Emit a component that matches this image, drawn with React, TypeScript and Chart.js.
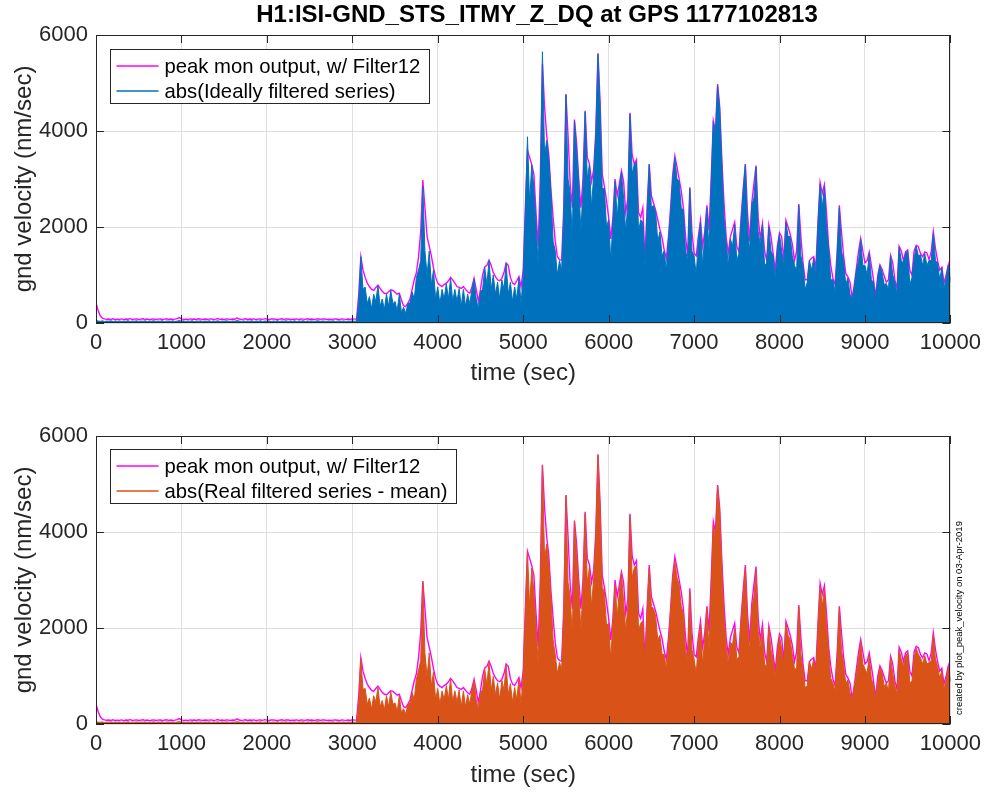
import React, { useEffect, useRef } from "react";
import { Chart, registerables } from "chart.js";

Chart.register(...registerables);

// ---------- data: one sample every 25 s, 0 .. 10000 s ----------
const SAMPLE_STEP_SEC = 25;

// 0 .. 3025 s (quiet part, 122 samples)
const PEAK_MON_QUIET = [
  420, 260, 150, 100, 85, 78, 82, 75, 88, 72,
  80, 76, 85, 70, 82, 78, 90, 74, 80, 85,
  72, 80, 88, 75, 82, 70, 78, 86, 74, 80,
  84, 72, 80, 88, 76, 82, 74, 80, 90, 112,
  85, 76, 80, 72, 86, 78, 82, 74, 88, 80,
  72, 84, 78, 80, 86, 74, 80, 92, 76, 82,
  74, 86, 80, 72, 84, 78, 110, 82, 76, 80,
  88, 74, 82, 78, 86, 72, 80, 84, 76, 90,
  80, 74, 82, 86, 78, 72, 80, 88, 76, 82,
  84, 74, 80, 78, 86, 72, 82, 80, 76, 88,
  78, 84, 72, 80, 88, 76, 82, 86, 74, 80,
  74, 80, 84, 78, 72, 86, 80, 76, 82, 74,
  88, 80,
];
// 3050 .. 10000 s (279 samples)
const PEAK_MON_ACTIVE = [
  80, 600, 1380, 1100, 950, 830, 760, 700, 680, 740, 790, 720, 660, 620, 610, 650, 690, 680, 640, 600,
  620, 480, 360, 340, 414, 500, 700, 900, 1050, 1380, 1900, 2980, 2400, 1800, 1600, 1400, 1150, 950, 830, 790,
  760, 800, 830, 880, 950, 900, 830, 760, 740, 720, 760, 700, 650, 620, 750, 930, 700, 450, 700, 1000,
  1170, 1200, 1310, 1200, 1050, 966, 900, 880, 930, 1050, 1250, 1200, 950, 830, 800, 880, 966, 750, 1100, 2400,
  3600, 3450, 3300, 3100, 2300, 1600, 3000, 5400, 4500, 3900, 3500, 2760, 2200, 1700, 1380, 1320, 1310, 2400, 4770, 3900,
  2900, 2400, 4240, 3750, 3000, 2400, 3000, 4420, 3450, 3320, 2950, 3200, 4000, 5620, 4600, 3100, 2850, 2550, 2200, 1750,
  2200, 3000, 2650, 2900, 3170, 2950, 2300, 2600, 4380, 3500, 3310, 3400, 2300, 2200, 2400, 1300, 2400, 3310, 2650, 2500,
  2350, 2150, 1950, 1780, 1520, 1345, 1790, 2400, 3100, 3480, 3250, 3000, 2750, 2400, 1800, 1380, 2830, 1900, 1450, 1400,
  1800, 2140, 1600, 1900, 2450, 1930, 3000, 4210, 4000, 4980, 4500, 3400, 2500, 1800, 1450, 1800, 1950, 2100, 1600, 1480,
  2200, 2800, 3310, 2300, 1700, 2500, 2900, 3280, 2200, 1750, 2070, 1500, 1300, 2040, 1800, 1450, 1100, 1600, 1880, 1800,
  1300, 2140, 2000, 1850, 1640, 1300, 1500, 2480, 1800, 1250, 900, 900, 1300, 1350, 1380, 1150, 2100, 2930, 2700, 2880,
  2300, 1600, 1200, 930, 800, 1500, 2450, 1900, 1400, 1035, 960, 850, 520, 800, 1150, 1500, 1760, 1500, 1250, 1300,
  1480, 1200, 900, 550, 1000, 1210, 1120, 980, 850, 900, 1410, 1250, 900, 720, 1600, 1500, 1300, 1480, 1520, 1100,
  1000, 1500, 1620, 1590, 1450, 1380, 1480, 1460, 1320, 1480, 1900, 1550, 1300, 1100, 1160, 830, 1000, 1210, 900,
];

const IDEAL_QUIET = [
  50, 42, 35, 45, 30, 40, 38, 46, 30, 42,
  35, 44, 32, 40, 36, 47, 31, 40, 37, 45,
  33, 41, 34, 45, 30, 41, 36, 48, 31, 40,
  35, 46, 30, 39, 42, 35, 44, 31, 40, 52,
  36, 45, 33, 41, 35, 46, 30, 40, 37, 44,
  31, 41, 36, 45, 30, 42, 35, 46, 32, 40,
  36, 45, 38, 30, 42, 35, 50, 40, 33, 44,
  31, 41, 36, 45, 30, 42, 35, 46, 32, 40,
  36, 44, 30, 41, 35, 47, 31, 40, 37, 45,
  33, 41, 34, 45, 30, 41, 36, 48, 31, 40,
  37, 43, 32, 40, 46, 34, 41, 38, 30, 44,
  35, 46, 30, 39, 42, 35, 44, 31, 40, 36,
  42, 38,
];
const IDEAL_ACTIVE = [
  40, 450, 1380, 700, 750, 400, 550, 300, 600, 450, 780, 350, 500, 280, 600, 350, 680, 400, 450, 250,
  600, 220, 330, 200, 400, 420, 650, 500, 950, 1100, 1300, 2850, 1500, 1000, 1500, 800, 1100, 500, 750, 400,
  700, 500, 820, 500, 930, 450, 700, 450, 720, 350, 700, 350, 600, 400, 700, 920, 500, 300, 650, 700,
  1150, 800, 1300, 700, 1000, 600, 850, 500, 900, 700, 1240, 600, 850, 450, 750, 500, 950, 400, 1000, 2300,
  3880, 2500, 3300, 2800, 2100, 1200, 2700, 5650, 3500, 3800, 3400, 2700, 1700, 1500, 1000, 1300, 1100, 2300, 4750, 3000,
  2700, 1800, 4200, 3600, 2900, 1900, 2800, 4400, 3000, 3300, 2400, 3100, 3950, 5600, 4500, 2800, 2800, 2000, 2150, 1300,
  2100, 2950, 2200, 2800, 3150, 2600, 1900, 2500, 4350, 3100, 3300, 3350, 1900, 2150, 2100, 1200, 2300, 3300, 2400, 2450,
  2300, 1700, 1900, 1400, 1500, 1100, 1750, 2300, 3000, 3450, 3000, 2950, 2400, 2350, 1500, 1300, 2800, 1500, 1400, 1000,
  1750, 2100, 1200, 1850, 2400, 1500, 2900, 4200, 3900, 4950, 4450, 3300, 2200, 1700, 1200, 1750, 1600, 2050, 1300, 1450,
  2100, 2750, 3300, 2000, 1500, 2450, 2600, 3250, 1900, 1600, 2050, 1200, 1250, 2000, 1500, 1400, 900, 1550, 1850, 1500,
  1200, 2100, 1800, 1800, 1400, 1200, 1100, 2450, 1400, 1200, 700, 850, 1300, 1100, 1350, 1000, 2050, 2900, 2400, 2850,
  2000, 1550, 900, 900, 650, 1450, 2400, 1500, 1300, 800, 940, 600, 500, 750, 1100, 1300, 1740, 1200, 1200, 1000,
  1450, 900, 850, 500, 950, 1200, 1050, 800, 820, 700, 1400, 1000, 850, 600, 1580, 1300, 1250, 1450, 1500, 800,
  950, 1350, 1600, 1400, 1420, 1200, 1450, 1200, 1300, 1300, 1880, 1300, 1250, 900, 1150, 700, 950, 1200, 850,
];

const REAL_QUIET = [
  46, 40, 36, 44, 31, 41, 37, 45, 32, 40,
  36, 43, 31, 41, 37, 46, 32, 39, 36, 44,
  34, 40, 35, 44, 31, 40, 37, 47, 32, 41,
  36, 45, 31, 40, 41, 36, 43, 32, 41, 50,
  35, 44, 34, 40, 36, 45, 31, 41, 36, 43,
  32, 40, 37, 44, 31, 41, 36, 45, 33, 41,
  35, 44, 37, 31, 41, 36, 48, 41, 34, 43,
  32, 40, 37, 44, 31, 41, 36, 45, 33, 41,
  35, 43, 31, 40, 36, 46, 32, 41, 36, 44,
  34, 40, 35, 44, 31, 40, 37, 47, 32, 41,
  38, 42, 33, 41, 45, 35, 40, 37, 31, 43,
  36, 45, 31, 40, 41, 36, 43, 32, 41, 37,
  41, 37,
];
const REAL_ACTIVE = [
  40, 460, 1360, 720, 740, 410, 540, 310, 590, 460, 760, 360, 490, 290, 590, 360, 670, 410, 440, 260,
  590, 230, 320, 210, 410, 430, 660, 510, 940, 1120, 1320, 2960, 1480, 980, 1480, 790, 1080, 510, 740, 410,
  690, 510, 800, 520, 940, 460, 690, 460, 710, 360, 690, 360, 610, 410, 720, 910, 510, 310, 640, 720,
  1140, 810, 1290, 710, 990, 610, 860, 510, 910, 710, 1230, 610, 840, 460, 760, 510, 940, 410, 1020, 2250,
  3600, 2450, 3250, 2750, 2050, 1250, 2650, 5380, 3450, 3750, 3350, 2650, 1750, 1450, 1050, 1280, 1150, 2350, 4760, 2950,
  2650, 1850, 4220, 3550, 2850, 1950, 2850, 4380, 2950, 3250, 2450, 3050, 3950, 5600, 4450, 2850, 2750, 2050, 2100, 1350,
  2150, 2900, 2250, 2750, 3150, 2550, 1950, 2450, 4350, 3050, 3250, 3300, 1950, 2100, 2150, 1250, 2350, 3250, 2450, 2400,
  2250, 1750, 1850, 1450, 1450, 1150, 1700, 2350, 3050, 3400, 3050, 2900, 2450, 2300, 1550, 1300, 2750, 1550, 1350, 1050,
  1700, 2100, 1250, 1800, 2420, 1550, 2850, 4150, 3850, 4960, 4400, 3250, 2250, 1650, 1250, 1700, 1650, 2000, 1350, 1400,
  2150, 2700, 3250, 2050, 1550, 2400, 2650, 3200, 1950, 1550, 2000, 1250, 1200, 2000, 1550, 1350, 950, 1500, 1850, 1550,
  1250, 2100, 1850, 1750, 1450, 1150, 1150, 2450, 1450, 1150, 750, 800, 1300, 1150, 1350, 1050, 2000, 2870, 2450, 2820,
  2050, 1500, 950, 850, 700, 1400, 2400, 1550, 1250, 850, 920, 650, 480, 780, 1050, 1350, 1720, 1250, 1150, 1050,
  1420, 950, 800, 520, 900, 1180, 1080, 780, 850, 680, 1380, 1050, 800, 620, 1550, 1350, 1200, 1420, 1480, 850,
  900, 1380, 1580, 1450, 1380, 1250, 1420, 1250, 1280, 1320, 1860, 1350, 1200, 950, 1120, 720, 920, 1180, 880,
];

const PEAK_MON = [...PEAK_MON_QUIET, ...PEAK_MON_ACTIVE];
const IDEAL_ABS = [...IDEAL_QUIET, ...IDEAL_ACTIVE];
const REAL_ABS = [...REAL_QUIET, ...REAL_ACTIVE];

const X_TICKS = [0, 1000, 2000, 3000, 4000, 5000, 6000, 7000, 8000, 9000, 10000];
const Y_TICKS = [0, 2000, 4000, 6000];

const TITLE = "H1:ISI-GND_STS_ITMY_Z_DQ at GPS 1177102813";
const X_LABEL = "time (sec)";
const Y_LABEL = "gnd velocity (nm/sec)";
const LEGEND_PEAK = "peak mon output, w/ Filter12";
const LEGEND_IDEAL = "abs(Ideally filtered series)";
const LEGEND_REAL = "abs(Real filtered series - mean)";
const CREDIT = "created by plot_peak_velocity on 03-Apr-2019";

const MAGENTA = "#FF00FF";
const BLUE = "#0072BD";
const ORANGE = "#D95319";
const AXIS = "#262626";
const GRID = "#dfdfdf";
const FONT = "'Liberation Sans', Arial, Helvetica, sans-serif";

const toPoints = (arr: number[]) => arr.map((v, i) => ({ x: i * SAMPLE_STEP_SEC, y: v }));

type PanelOpts = {
  height: number;
  padTop: number;
  xAxisHeight: number;
  xTitlePad: number;
  seriesLabel: string;
  seriesColor: string;
  series: number[];
  legendOffset: number;
  drawTitle: boolean;
  drawCredit: boolean;
};

function makeConfig(o: PanelOpts): any {
  const framePlugin = {
    id: "matlabFrame",
    afterDatasetsDraw(chart: any) {
      const { ctx, chartArea } = chart;
      const { left, right, top, bottom } = chartArea;
      const xs = chart.scales.x;
      const ys = chart.scales.y;
      ctx.save();
      ctx.strokeStyle = AXIS;
      ctx.lineWidth = 1;
      const tl = 8;
      ctx.beginPath();
      X_TICKS.forEach((t) => {
        const px = Math.round(xs.getPixelForValue(t)) + 0.5;
        ctx.moveTo(px, bottom);
        ctx.lineTo(px, bottom - tl);
        ctx.moveTo(px, top);
        ctx.lineTo(px, top + tl);
      });
      Y_TICKS.forEach((t) => {
        const py = Math.round(ys.getPixelForValue(t)) + 0.5;
        ctx.moveTo(left, py);
        ctx.lineTo(left + tl, py);
        ctx.moveTo(right, py);
        ctx.lineTo(right - tl, py);
      });
      ctx.stroke();
      ctx.strokeRect(Math.round(left) + 0.5, Math.round(top) + 0.5, Math.round(right - left) - 1, Math.round(bottom - top) - 1);

      // legend
      ctx.font = `20.3px ${FONT}`;
      const w1 = ctx.measureText(LEGEND_PEAK).width;
      const w2 = ctx.measureText(o.seriesLabel).width;
      const bx = Math.round(left) + 14.5;
      const by = Math.round(top) + o.legendOffset + 0.5;
      const bw = Math.round(54 + Math.max(w1, w2) + 9);
      const bh = 54;
      ctx.fillStyle = "#ffffff";
      ctx.fillRect(bx, by, bw, bh);
      ctx.strokeStyle = AXIS;
      ctx.lineWidth = 1;
      ctx.strokeRect(bx, by, bw, bh);
      const rows = [
        { label: LEGEND_PEAK, color: MAGENTA, width: 1.5 },
        { label: o.seriesLabel, color: o.seriesColor, width: 1.5 },
      ];
      rows.forEach((r, i) => {
        const cy = Math.round(by + 16 + i * 25);
        ctx.strokeStyle = r.color;
        ctx.lineWidth = r.width;
        ctx.beginPath();
        ctx.moveTo(bx + 6, cy);
        ctx.lineTo(bx + 48, cy);
        ctx.stroke();
        ctx.fillStyle = "#000000";
        ctx.textBaseline = "middle";
        ctx.textAlign = "left";
        ctx.fillText(r.label, bx + 54, cy + 1);
      });

      if (o.drawTitle) {
        ctx.fillStyle = "#000000";
        ctx.font = `bold 24px ${FONT}`;
        ctx.textAlign = "center";
        ctx.textBaseline = "alphabetic";
        ctx.fillText(TITLE, 537, 22);
      }
      if (o.drawCredit) {
        ctx.fillStyle = "#000000";
        ctx.font = `9.5px ${FONT}`;
        ctx.translate(959, 222);
        ctx.rotate(-Math.PI / 2);
        ctx.textAlign = "center";
        ctx.textBaseline = "middle";
        ctx.fillText(CREDIT, 0, 0);
      }
      ctx.restore();
    },
  };

  return {
    type: "line",
    data: {
      datasets: [
        {
          label: o.seriesLabel,
          data: toPoints(o.series),
          borderColor: o.seriesColor,
          backgroundColor: o.seriesColor,
          borderWidth: 1,
          fill: "origin",
          pointRadius: 0,
          tension: 0,
          order: 0,
        },
        {
          label: LEGEND_PEAK,
          data: toPoints(PEAK_MON),
          borderColor: MAGENTA,
          backgroundColor: MAGENTA,
          borderWidth: 1.4,
          fill: false,
          pointRadius: 0,
          tension: 0,
          order: 1,
        },
      ],
    },
    options: {
      animation: false,
      responsive: false,
      devicePixelRatio: 1,
      layout: { padding: { top: o.padTop, right: 37, left: 0, bottom: 0 } },
      plugins: { legend: { display: false }, tooltip: { enabled: false }, title: { display: false } },
      elements: { point: { radius: 0 } },
      scales: {
        x: {
          type: "linear",
          min: 0,
          max: 10000,
          afterBuildTicks: (s: any) => {
            s.ticks = X_TICKS.map((v) => ({ value: v }));
          },
          ticks: {
            autoSkip: false,
            maxRotation: 0,
            color: AXIS,
            font: { family: FONT, size: 22 },
            padding: 7,
            callback: (v: any) => String(v),
          },
          grid: { color: GRID, drawTicks: false, lineWidth: 1 },
          border: { display: false },
          title: {
            display: true,
            text: X_LABEL,
            color: AXIS,
            font: { family: FONT, size: 24, lineHeight: 1.2 },
            padding: { top: 0, bottom: o.xTitlePad },
          },
          afterFit: (s: any) => {
            s.height = o.xAxisHeight;
          },
        },
        y: {
          type: "linear",
          min: 0,
          max: 6000,
          afterBuildTicks: (s: any) => {
            s.ticks = Y_TICKS.map((v) => ({ value: v }));
          },
          ticks: {
            color: AXIS,
            font: { family: FONT, size: 22 },
            padding: 8,
            callback: (v: any) => String(v),
          },
          grid: { color: GRID, drawTicks: false, lineWidth: 1 },
          border: { display: false },
          title: {
            display: true,
            text: Y_LABEL,
            color: AXIS,
            font: { family: FONT, size: 24, lineHeight: 1.2 },
            padding: { top: 10, bottom: 0 },
          },
          afterFit: (s: any) => {
            s.width = 96;
          },
        },
      },
    },
    plugins: [framePlugin],
  };
}

function Panel(props: PanelOpts & { top: number }) {
  const ref = useRef<HTMLCanvasElement | null>(null);
  useEffect(() => {
    if (!ref.current) return;
    const chart = new Chart(ref.current, makeConfig(props));
    return () => chart.destroy();
  }, []);
  return (
    <canvas
      ref={ref}
      width={988}
      height={props.height}
      style={{ position: "absolute", left: 0, top: props.top, width: 988, height: props.height }}
    />
  );
}

export default function App() {
  useEffect(() => {
    document.body.style.margin = "0";
    document.body.style.background = "#ffffff";
  }, []);
  return (
    <div style={{ position: "relative", width: 988, height: 793, background: "#ffffff", overflow: "hidden" }}>
      <Panel
        top={0}
        height={396}
        padTop={35}
        xAxisHeight={73}
        xTitlePad={8}
        seriesLabel={LEGEND_IDEAL}
        seriesColor={BLUE}
        series={IDEAL_ABS}
        legendOffset={14}
        drawTitle={true}
        drawCredit={false}
      />
      <Panel
        top={396}
        height={397}
        padTop={40}
        xAxisHeight={69}
        xTitlePad={3}
        seriesLabel={LEGEND_REAL}
        seriesColor={ORANGE}
        series={REAL_ABS}
        legendOffset={13}
        drawTitle={false}
        drawCredit={true}
      />
    </div>
  );
}
